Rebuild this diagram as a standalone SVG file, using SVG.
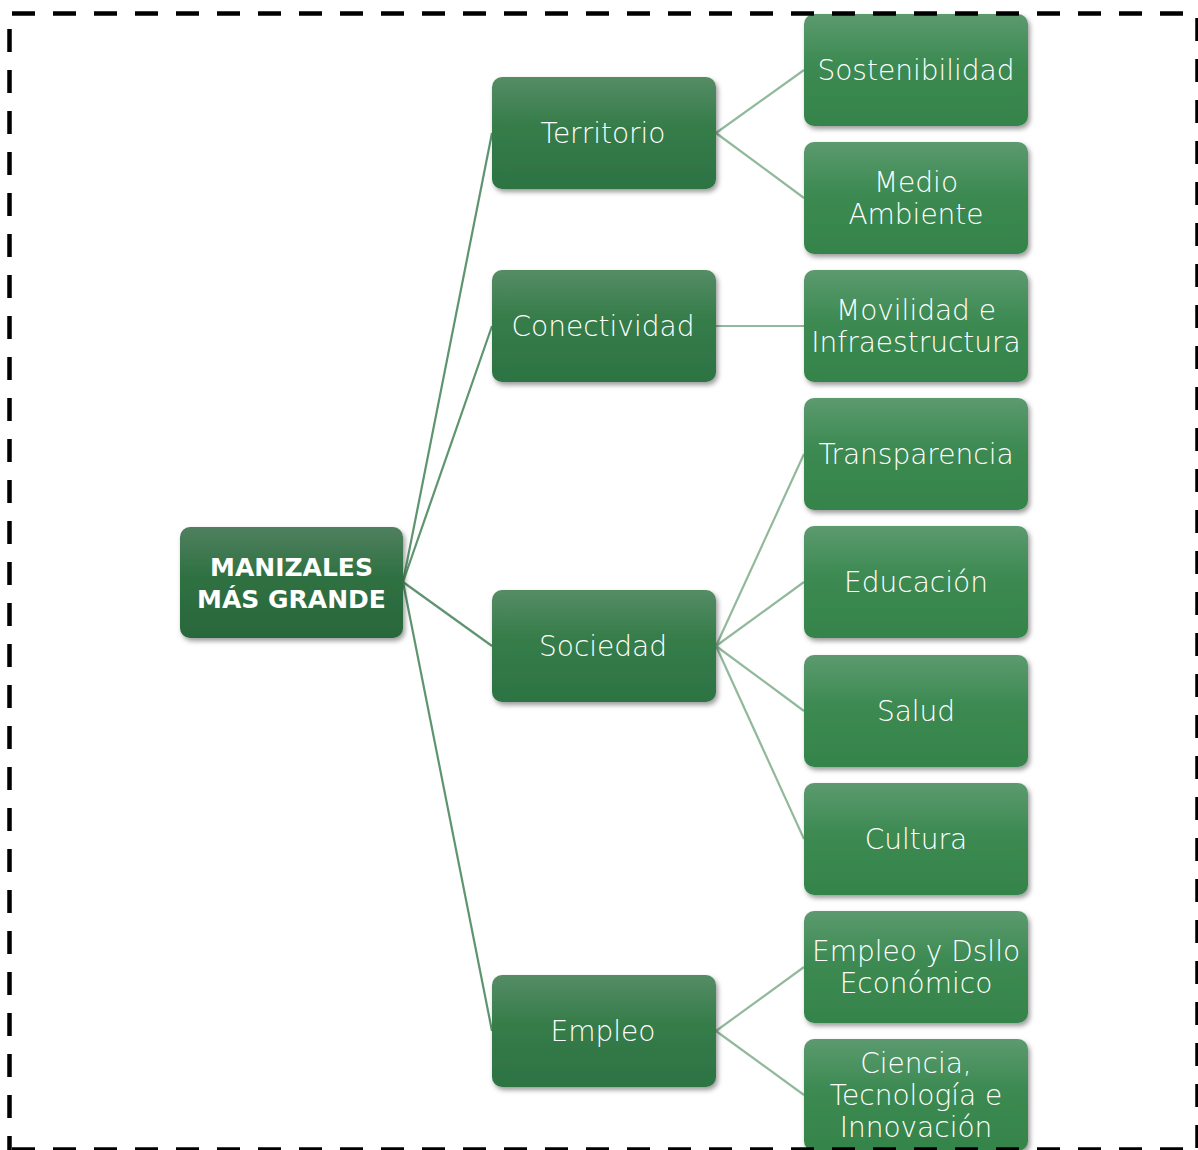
<svg xmlns="http://www.w3.org/2000/svg" width="1198" height="1150" viewBox="0 0 1198 1150">
<defs>
<linearGradient id="gRoot" x1="0" y1="0" x2="0" y2="1">
<stop offset="0" stop-color="#4f805e"/><stop offset="0.45" stop-color="#2f7042"/><stop offset="1" stop-color="#28683a"/>
</linearGradient>
<linearGradient id="gMid" x1="0" y1="0" x2="0" y2="1">
<stop offset="0" stop-color="#558c65"/><stop offset="0.45" stop-color="#357c49"/><stop offset="1" stop-color="#2d7343"/>
</linearGradient>
<linearGradient id="gLeaf" x1="0" y1="0" x2="0" y2="1">
<stop offset="0" stop-color="#5c9a6f"/><stop offset="0.45" stop-color="#3c8a52"/><stop offset="1" stop-color="#35844b"/>
</linearGradient>
<filter id="sh" x="-10%" y="-10%" width="125%" height="130%">
<feDropShadow dx="2" dy="3" stdDeviation="2.5" flood-color="#000" flood-opacity="0.4"/>
</filter>
</defs>
<style>
.border{stroke:#000;stroke-width:4.5;stroke-dasharray:23 18;fill:none}
.root rect{fill:url(#gRoot);filter:url(#sh)}
.mid rect{fill:url(#gMid);filter:url(#sh)}
.leaf rect{fill:url(#gLeaf);filter:url(#sh)}
text{fill:#fff;font-family:"DejaVu Sans","Liberation Sans",sans-serif;text-anchor:middle}
.root text{font-size:25px;font-weight:bold}
.mid text,.leaf text{font-size:28px;font-weight:300}
.c1{stroke:#5e9470;stroke-width:2.2;fill:none}
.c2{stroke:#92b99c;stroke-width:2.2;fill:none}
</style>
<g id="connectors">
<line class="c1" x1="403" y1="582" x2="492" y2="133"/>
<line class="c1" x1="403" y1="582" x2="492" y2="326"/>
<line class="c1" x1="403" y1="582" x2="492" y2="646"/>
<line class="c1" x1="403" y1="582" x2="492" y2="1031"/>
<line class="c2" x1="716" y1="133" x2="804" y2="70"/>
<line class="c2" x1="716" y1="133" x2="804" y2="198"/>
<line class="c2" x1="716" y1="326" x2="804" y2="326"/>
<line class="c2" x1="716" y1="646" x2="804" y2="454"/>
<line class="c2" x1="716" y1="646" x2="804" y2="582"/>
<line class="c2" x1="716" y1="646" x2="804" y2="711"/>
<line class="c2" x1="716" y1="646" x2="804" y2="839"/>
<line class="c2" x1="716" y1="1031" x2="804" y2="967"/>
<line class="c2" x1="716" y1="1031" x2="804" y2="1095"/>
</g>
<g id="root" class="root">
<rect x="180" y="527" width="223" height="111" rx="10"/>
<text x="291.5" y="576">MANIZALES</text>
<text x="291.5" y="608">MÁS GRANDE</text>
</g>
<g id="territorio" class="mid">
<rect x="492" y="77" width="224" height="112" rx="10"/>
<text x="603" y="143">Territorio</text>
</g>
<g id="conectividad" class="mid">
<rect x="492" y="270" width="224" height="112" rx="10"/>
<text x="603" y="336">Conectividad</text>
</g>
<g id="sociedad" class="mid">
<rect x="492" y="590" width="224" height="112" rx="10"/>
<text x="603" y="656">Sociedad</text>
</g>
<g id="empleo" class="mid">
<rect x="492" y="975" width="224" height="112" rx="10"/>
<text x="603" y="1041">Empleo</text>
</g>
<g id="sostenibilidad" class="leaf">
<rect x="804" y="14" width="224" height="112" rx="10"/>
<text x="916" y="80">Sostenibilidad</text>
</g>
<g id="medio-ambiente" class="leaf">
<rect x="804" y="142" width="224" height="112" rx="10"/>
<text x="916" y="192">Medio</text>
<text x="916" y="224">Ambiente</text>
</g>
<g id="movilidad" class="leaf">
<rect x="804" y="270" width="224" height="112" rx="10"/>
<text x="916" y="320">Movilidad e</text>
<text x="916" y="352">Infraestructura</text>
</g>
<g id="transparencia" class="leaf">
<rect x="804" y="398" width="224" height="112" rx="10"/>
<text x="916" y="464">Transparencia</text>
</g>
<g id="educacion" class="leaf">
<rect x="804" y="526" width="224" height="112" rx="10"/>
<text x="916" y="592">Educación</text>
</g>
<g id="salud" class="leaf">
<rect x="804" y="655" width="224" height="112" rx="10"/>
<text x="916" y="721">Salud</text>
</g>
<g id="cultura" class="leaf">
<rect x="804" y="783" width="224" height="112" rx="10"/>
<text x="916" y="849">Cultura</text>
</g>
<g id="empleo-dsllo" class="leaf">
<rect x="804" y="911" width="224" height="112" rx="10"/>
<text x="916" y="961">Empleo y Dsllo</text>
<text x="916" y="993">Económico</text>
</g>
<g id="ciencia" class="leaf">
<rect x="804" y="1039" width="224" height="112" rx="10"/>
<text x="916" y="1073">Ciencia,</text>
<text x="916" y="1105">Tecnología e</text>
<text x="916" y="1137">Innovación</text>
</g>
<g id="border">
<line class="border" x1="12" y1="13.5" x2="1198" y2="13.5"/>
<line class="border" x1="9.5" y1="29" x2="9.5" y2="1150"/>
<line class="border" x1="1197.5" y1="18" x2="1197.5" y2="1150"/>
<line class="border" x1="12" y1="1149.5" x2="1198" y2="1149.5"/>
</g>
</svg>
